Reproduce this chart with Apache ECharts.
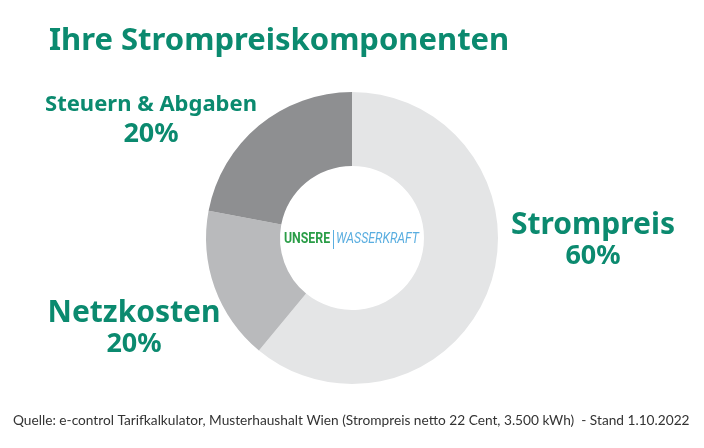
<!DOCTYPE html>
<html><head><meta charset="utf-8">
<script src="https://cdn.jsdelivr.net/npm/echarts@6/dist/echarts.min.js"></script>
<style>html,body{margin:0;padding:0;background:#fff}#c{width:704px;height:448px}</style>
</head><body><div id="c"></div>
<script>
const categories = ['Strompreis', 'Netzkosten', 'Steuern & Abgaben'];
const shares = [61, 17, 22];
const shareLabels = ['60%', '20%', '20%'];
const colors = ['#e4e5e6', '#b9babc', '#8e8f91'];
const titleText = 'Ihre Strompreiskomponenten';
const sourceText = 'Quelle: e-control Tarifkalkulator, Musterhaushalt Wien (Strompreis netto 22 Cent, 3.500 kWh)  - Stand 1.10.2022';

const green = '#0b8a6f';
const labelPos = [
  {x: 593, y: 240},
  {x: 134, y: 328},
  {x: 151, y: 120}
];
const nameSize = [30, 30, 22];
const nameLH = [32, 32, 28];

const chart = echarts.init(document.getElementById('c'));
chart.setOption({
  animation: false,
  title: {
    text: titleText, left: 44, top: 21,
    textStyle: {color: green, fontFamily: 'Noto Sans', fontWeight: 'bold', fontSize: 31}
  },
  graphic: [
    {type: 'text', left: 13, top: 414, style: {text: sourceText, fill: '#333', font: '13.7px Lato'}},
    {type: 'text', x: 284, y: 232, scaleX: 0.82, style: {text: 'UNSERE', fill: '#2a9d47', font: 'bold 15px Roboto'}},
    {type: 'rect', shape: {x: 333, y: 230, width: 1, height: 19}, style: {fill: '#5aaee0'}},
    {type: 'text', x: 336, y: 232, scaleX: 0.82, style: {text: 'WASSERKRAFT', fill: '#5aaee0', font: 'italic 15px Roboto'}}
  ],
  series: [{
    type: 'pie',
    center: [352, 238],
    radius: [72, 146],
    startAngle: 90,
    clockwise: true,
    silent: true,
    data: categories.map((c, i) => ({
      name: c, value: shares[i], itemStyle: {color: colors[i]},
      label: {rich: {n: {fontSize: nameSize[i], lineHeight: nameLH[i]}}}
    })),
    label: {
      show: true,
      overflow: 'none',
      formatter: p => '{n|' + p.name + '}\n{p|' + shareLabels[p.dataIndex] + '}',
      rich: {
        n: {color: green, fontFamily: 'Noto Sans', fontWeight: 'bold', fontSize: 22, lineHeight: 28, align: 'center'},
        p: {color: green, fontFamily: 'Noto Sans', fontWeight: 'bold', fontSize: 27, lineHeight: 30, align: 'center'}
      }
    },
    labelLine: {show: false},
    labelLayout: function (params) {
      const lp = labelPos[params.dataIndex];
      return {x: lp.x, y: lp.y, align: 'center', verticalAlign: 'middle'};
    }
  }]
});
</script></body></html>
